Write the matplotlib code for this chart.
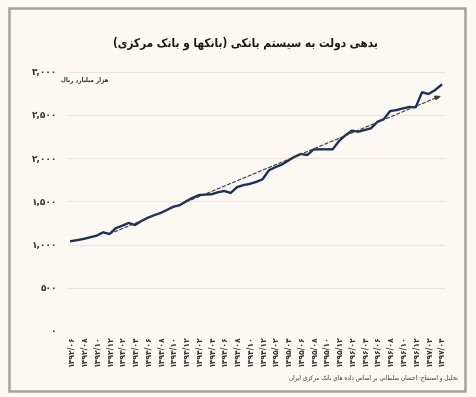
import numpy as np
import matplotlib
matplotlib.use("Agg")
import matplotlib.pyplot as plt
from matplotlib.patches import Rectangle

# ---------------- data ----------------
title = "بدهی دولت به سیستم بانکی (بانکها و بانک مرکزی)"
unit_label = "هزار میلیارد ریال"
source = "تحلیل و استنتاج: احسان سلطانی بر اساس داده های بانک مرکزی ایران"

# monthly debt (thousand billion rials), 1392/06 .. 1397/04
debt = [1040, 1052, 1066, 1085, 1103, 1142, 1122, 1190, 1218, 1250,
        1226, 1272, 1310, 1340, 1365, 1400, 1438, 1455, 1500, 1540,
        1572, 1578, 1582, 1605, 1620, 1597, 1665, 1688, 1702, 1725,
        1755, 1860, 1895, 1925, 1970, 2015, 2048, 2036, 2100, 2102,
        2102, 2102, 2200, 2265, 2318, 2306, 2325, 2345, 2420, 2450,
        2545, 2556, 2575, 2592, 2588, 2762, 2742, 2785, 2846]

x_labels = ["۱۳۹۲/۰۶", "۱۳۹۲/۰۸", "۱۳۹۲/۱۰", "۱۳۹۲/۱۲",
            "۱۳۹۳/۰۲", "۱۳۹۳/۰۴", "۱۳۹۳/۰۶", "۱۳۹۳/۰۸", "۱۳۹۳/۱۰", "۱۳۹۳/۱۲",
            "۱۳۹۴/۰۲", "۱۳۹۴/۰۴", "۱۳۹۴/۰۶", "۱۳۹۴/۰۸", "۱۳۹۴/۱۰", "۱۳۹۴/۱۲",
            "۱۳۹۵/۰۲", "۱۳۹۵/۰۴", "۱۳۹۵/۰۶", "۱۳۹۵/۰۸", "۱۳۹۵/۱۰", "۱۳۹۵/۱۲",
            "۱۳۹۶/۰۲", "۱۳۹۶/۰۴", "۱۳۹۶/۰۶", "۱۳۹۶/۰۸", "۱۳۹۶/۱۰", "۱۳۹۶/۱۲",
            "۱۳۹۷/۰۲", "۱۳۹۷/۰۴"]

y_ticks = [0, 500, 1000, 1500, 2000, 2500, 3000]

# ---------------- Persian shaping (matplotlib has no complex text layout) ----------------
FORMS = {
    '\u0627': ('\uFE8D', '\uFE8E', None, None),
    '\u0622': ('\uFE81', '\uFE82', None, None),
    '\u0628': ('\uFE8F', '\uFE90', '\uFE91', '\uFE92'),
    '\u067E': ('\uFB56', '\uFB57', '\uFB58', '\uFB59'),
    '\u062A': ('\uFE95', '\uFE96', '\uFE97', '\uFE98'),
    '\u062B': ('\uFE99', '\uFE9A', '\uFE9B', '\uFE9C'),
    '\u062C': ('\uFE9D', '\uFE9E', '\uFE9F', '\uFEA0'),
    '\u0686': ('\uFB7A', '\uFB7B', '\uFB7C', '\uFB7D'),
    '\u062D': ('\uFEA1', '\uFEA2', '\uFEA3', '\uFEA4'),
    '\u062E': ('\uFEA5', '\uFEA6', '\uFEA7', '\uFEA8'),
    '\u062F': ('\uFEA9', '\uFEAA', None, None),
    '\u0630': ('\uFEAB', '\uFEAC', None, None),
    '\u0631': ('\uFEAD', '\uFEAE', None, None),
    '\u0632': ('\uFEAF', '\uFEB0', None, None),
    '\u0698': ('\uFB8A', '\uFB8B', None, None),
    '\u0633': ('\uFEB1', '\uFEB2', '\uFEB3', '\uFEB4'),
    '\u0634': ('\uFEB5', '\uFEB6', '\uFEB7', '\uFEB8'),
    '\u0635': ('\uFEB9', '\uFEBA', '\uFEBB', '\uFEBC'),
    '\u0636': ('\uFEBD', '\uFEBE', '\uFEBF', '\uFEC0'),
    '\u0637': ('\uFEC1', '\uFEC2', '\uFEC3', '\uFEC4'),
    '\u0638': ('\uFEC5', '\uFEC6', '\uFEC7', '\uFEC8'),
    '\u0639': ('\uFEC9', '\uFECA', '\uFECB', '\uFECC'),
    '\u063A': ('\uFECD', '\uFECE', '\uFECF', '\uFED0'),
    '\u0641': ('\uFED1', '\uFED2', '\uFED3', '\uFED4'),
    '\u0642': ('\uFED5', '\uFED6', '\uFED7', '\uFED8'),
    '\u06A9': ('\uFB8E', '\uFB8F', '\uFB90', '\uFB91'),
    '\u0643': ('\uFED9', '\uFEDA', '\uFEDB', '\uFEDC'),
    '\u06AF': ('\uFB92', '\uFB93', '\uFB94', '\uFB95'),
    '\u0644': ('\uFEDD', '\uFEDE', '\uFEDF', '\uFEE0'),
    '\u0645': ('\uFEE1', '\uFEE2', '\uFEE3', '\uFEE4'),
    '\u0646': ('\uFEE5', '\uFEE6', '\uFEE7', '\uFEE8'),
    '\u0647': ('\uFEE9', '\uFEEA', '\uFEEB', '\uFEEC'),
    '\u0648': ('\uFEED', '\uFEEE', None, None),
    '\u06CC': ('\uFBFC', '\uFBFD', '\uFBFE', '\uFBFF'),
    '\u064A': ('\uFEF1', '\uFEF2', '\uFEF3', '\uFEF4'),
}


def rtl(text):
    out = []
    n = len(text)
    for i, ch in enumerate(text):
        if ch not in FORMS:
            out.append(ch)
            continue
        prev = text[i - 1] if i > 0 else None
        nxt = text[i + 1] if i < n - 1 else None
        jp = prev in FORMS and FORMS[prev][2] is not None
        jn = nxt in FORMS and FORMS[ch][2] is not None
        iso, fin, ini, med = FORMS[ch]
        if jp and jn:
            out.append(med)
        elif jp:
            out.append(fin)
        elif jn:
            out.append(ini)
        else:
            out.append(iso)
    vis = ''.join(reversed(out))
    return vis.translate(str.maketrans('()', ')('))


def fa_num(v):
    return f"{v:,}".translate(str.maketrans('0123456789', '۰۱۲۳۴۵۶۷۸۹'))


# ---------------- figure ----------------
plt.rcParams['font.family'] = ['DejaVu Sans']
BG = '#fcf8f2'
W, H = 476, 397
fig = plt.figure(figsize=(W / 100, H / 100), dpi=100, facecolor=BG)

# frame
fig.add_artist(Rectangle((9 / W, 1 - 391 / H), (465 - 9) / W, (391 - 8) / H,
                         transform=fig.transFigure, fill=False,
                         edgecolor='#a3a39d', linewidth=1.8))

ax = fig.add_axes([68 / W, 1 - 331 / H, (445 - 68) / W, (331 - 71.7) / H])
ax.patch.set_alpha(0)

x = np.arange(len(debt))
y = np.array(debt, dtype=float)
coef = np.polyfit(x, y, 1)
ax.plot(x, y, color='#1d2d60', lw=1.7, zorder=2, solid_joinstyle='round')

# linear trend (drawn as a dashed arrow from where it meets the series)
t0, t1 = x[6], x[-1]
ax.annotate('', xy=(t1, np.polyval(coef, t1)), xytext=(t0, np.polyval(coef, t0)),
            arrowprops=dict(arrowstyle='-|>,head_length=0.35,head_width=0.15',
                            color='#3a3a3a', lw=0.8, linestyle=(0, (3, 2)),
                            shrinkA=0, shrinkB=0),
            zorder=3)

ax.set_xlim(-0.5, 58.6)
ax.set_ylim(0, 3000)
ax.set_yticks(y_ticks)
ax.set_yticklabels([fa_num(v) for v in y_ticks], fontsize=6.5, fontweight='bold', color='#333333')
ax.set_xticks(x[::2])
ax.set_xticklabels(x_labels, rotation=90, fontsize=5.5, fontweight='bold', color='#333333')
ax.tick_params(axis='both', length=0)
ax.tick_params(axis='y', pad=8)
ax.tick_params(axis='x', pad=3)
for s in ax.spines.values():
    s.set_visible(False)
ax.grid(axis='y', color='#ebe5dc', lw=0.8)
ax.set_axisbelow(True)
ax.get_ygridlines()[0].set_visible(False)

fig.text(245 / W, 1 - 43 / H, rtl(title), ha='center', va='center',
         fontsize=8.5, fontweight='bold', fontstretch='condensed', color='#1a1a1a')
fig.text(61 / W, 1 - 80 / H, rtl(unit_label), ha='left', va='center',
         fontsize=4.5, fontweight='bold', fontstretch='condensed', color='#333333')
fig.text(458 / W, 1 - 378 / H, rtl(source), ha='right', va='center',
         fontsize=4.6, fontstretch='condensed', color='#333333')

fig.savefig('out.png', dpi=100, facecolor=BG)
